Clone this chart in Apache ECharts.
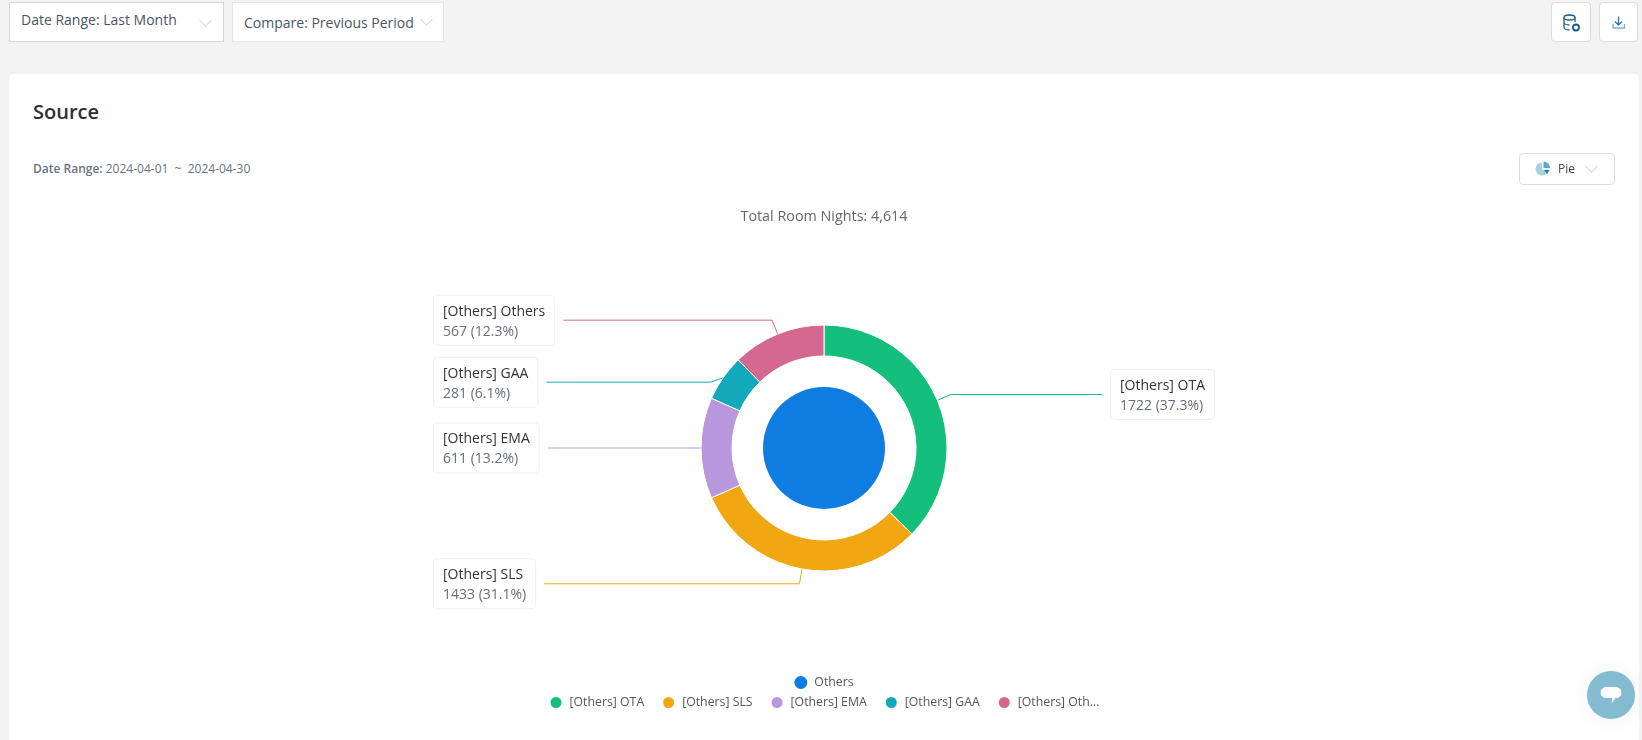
<!DOCTYPE html>
<html>
<head>
<meta charset="utf-8">
<script src="https://cdn.jsdelivr.net/npm/echarts@6/dist/echarts.min.js"></script>
<style>
html,body{margin:0;padding:0;width:1642px;height:740px;overflow:hidden;background:#f3f3f3;font-family:"Open Sans",sans-serif;color:#444}
.abs{position:absolute;box-sizing:border-box}
.sel{background:#fff;border:1px solid #dcdcdc;height:40px;top:2px;font-size:14px;line-height:38px;color:#4a5563;white-space:nowrap}
.chev{position:absolute;width:8px;height:8px;border-right:1px solid #d4d4d4;border-bottom:1px solid #d4d4d4;transform:rotate(45deg)}
.icon{background:#fff;border:1px solid #dcdcdc;border-radius:4px;top:2px;height:40px}
#card{left:9px;top:74px;width:1630px;height:666px;background:#fff;border-radius:4px 4px 0 0}
#chart{left:9px;top:0;width:1630px;height:740px}
</style>
</head>
<body>
<div class="abs sel" style="left:9px;width:215px;border-width:1px;border-color:#d6d6d6"><span style="position:absolute;left:11px;top:-2px">Date Range: Last Month</span><i class="chev" style="left:191px;top:13px"></i></div>
<div class="abs sel" style="left:232px;width:212px;border-color:#e6e6e6"><span style="position:absolute;left:11px;top:1px">Compare: Previous Period</span><i class="chev" style="left:189px;top:12px"></i></div>
<div class="abs icon" style="left:1551px;width:40px">
<svg width="38" height="38" style="position:absolute;left:0;top:0" fill="none" stroke="#1c5b86" stroke-width="1.300"><ellipse cx="17.500" cy="14.500" rx="5.500" ry="2.500"/><path d="M12 14.500v10c0 1.300 2.500 2.500 5.500 2.500M23 14.500v4.500M12 19.500c0 1.300 2.500 2.500 5.500 2.500"/><circle cx="24" cy="24.500" r="3" stroke-width="1.800"/></svg></div>
<div class="abs icon" style="left:1599px;width:39px">
<svg width="37" height="38" style="position:absolute;left:0;top:0" fill="none" stroke-width="1.400"><path d="M18.500 13.500v8M15 18.500l3.500 3.500 3.500-3.500" stroke="#2f7fa8"/><path d="M13 21v4h11.500v-4" stroke="#7fb2cf"/></svg></div>
<div id="card" class="abs"></div>
<div class="abs" style="left:33px;top:97px;font-size:20px;font-weight:600;color:#2b2f36;line-height:30px">Source</div>
<div class="abs" style="left:33px;top:160px;font-size:12px;line-height:17px;color:#6b7280;white-space:pre"><b style="font-weight:600">Date Range:</b> 2024-04-01  ~  2024-04-30</div>
<div id="chart" class="abs"></div>
<div class="abs" style="left:1519px;top:153px;width:96px;height:32px;background:#fff;border:1px solid #dcdcdc;border-radius:4px;font-size:12px;line-height:30px;color:#444">
<svg width="16" height="16" style="position:absolute;left:15px;top:7px"><path d="M7 1.500a6.500 6.500 0 1 0 6.500 7H7z" fill="#a9d1e0"/><path d="M8.500 0.500a6.500 6.500 0 0 1 6.500 6.500H8.500z" fill="#5aa6c4"/><path d="M9 9h5.500l-2.500 4z" fill="#1f7ea3"/></svg>
<span style="position:absolute;left:38px;top:0">Pie</span><i class="chev" style="left:67px;top:8px"></i></div>
<div class="abs" style="left:1587px;top:671px;width:48px;height:48px;border-radius:50%;background:#83bbd0;box-shadow:0 0 22px rgba(0,0,0,.06)">
<svg width="48" height="48" style="position:absolute;left:0;top:0"><path d="M19 16h10a5.500 5.500 0 0 1 0 11h-0.500l-3.500 5v-5H19a5.500 5.500 0 0 1 0-11z" fill="#fff"/></svg></div>

<script>
const innerName = 'Others';
const innerValue = 4614;
const innerColor = '#0e7ce0';
const sourceNames = ['[Others] OTA', '[Others] SLS', '[Others] EMA', '[Others] GAA', '[Others] Others'];
const sourceValues = [1722, 1433, 611, 281, 567];
const sourceColors = ['#14bf7c', '#f1a711', '#b997dd', '#12a9bd', '#d46890'];
const totalTitle = 'Total Room Nights: 4,614';

const FONT = '"Open Sans", sans-serif';
const chart = echarts.init(document.getElementById('chart'), null, {renderer: 'canvas'});
const legendBase = {
  left: 'center', icon: 'circle', itemWidth: 17, itemHeight: 13, itemGap: 17,
  textStyle: {fontFamily: FONT, fontSize: 12.3, color: '#555'},
  formatter: n => n.length > 12 ? n.slice(0, 12) + '...' : n
};
chart.setOption({
  animation: false,
  title: {
    text: totalTitle, left: 'center', top: 205,
    textStyle: {fontFamily: FONT, fontSize: 14.35, fontWeight: 'normal', color: '#666'}
  },
  legend: [
    Object.assign({}, legendBase, {top: 671, data: [innerName]}),
    Object.assign({}, legendBase, {top: 690, data: sourceNames})
  ],
  series: [
    {
      type: 'pie', name: 'Inner', center: ['50%', 448], radius: [0, 61], silent: true,
      itemStyle: {color: innerColor},
      label: {show: false}, labelLine: {show: false},
      data: [{name: innerName, value: innerValue}]
    },
    {
      type: 'pie', name: 'Source', center: ['50%', 448], radius: [92, 123], percentPrecision: 1,
      avoidLabelOverlap: true,
      itemStyle: {borderColor: '#fff', borderWidth: 1},
      label: {
        alignTo: 'edge', edgeDistance: 425, distanceToLabelLine: 7, minMargin: 11,
        formatter: p => '{n|' + p.name + '}\n{v|' + p.value + ' (' + p.percent + '%)}',
        backgroundColor: '#fff', borderColor: '#eceef0', borderWidth: 1, borderRadius: 4,
        padding: [6, 9, 3, 9],
        rich: {
          n: {fontFamily: FONT, fontSize: 14, lineHeight: 20, color: '#333', align: 'left'},
          v: {fontFamily: FONT, fontSize: 14, lineHeight: 20, color: '#666e78', align: 'left'}
        }
      },
      labelLine: {show: true, length: 15, length2: 20, smooth: false, lineStyle: {width: 1}},
      data: sourceNames.map((n, i) => ({name: n, value: sourceValues[i], itemStyle: {color: sourceColors[i]}}))
    }
  ]
});
</script>
</body>
</html>
